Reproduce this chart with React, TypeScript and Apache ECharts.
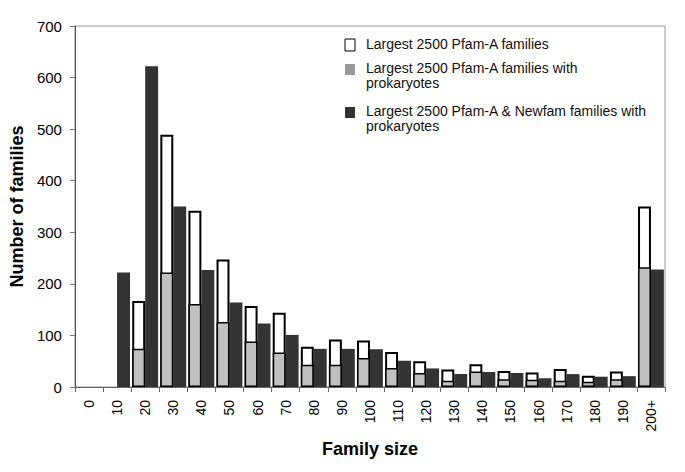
import React, { useEffect, useRef } from "react";
import * as echarts from "echarts";

const categories = ["0", "10", "20", "30", "40", "50", "60", "70", "80", "90", "100", "110", "120", "130", "140", "150", "160", "170", "180", "190", "200+"];
const pfamAll = [null, null, 167, 489, 342, 247, 157, 144, 78, 92, 90, 68, 50, 34, 44, 31, 28, 35, 22, 30, 350];
const pfamProk = [null, null, 74, 222, 161, 126, 88, 67, 43, 43, 56, 37, 27, 12, 30, 15, 14, 12, 10, 15, 232];
const pfamNewfamProk = [null, 222, 622, 350, 227, 164, 123, 101, 74, 74, 73, 51, 36, 25, 29, 27, 17, 25, 20, 21, 228];
const yTicks = [0, 100, 200, 300, 400, 500, 600, 700];

const seriesNames = [
  "Largest 2500 Pfam-A families",
  "Largest 2500 Pfam-A families with\nprokaryotes",
  "Largest 2500 Pfam-A & Newfam families with\nprokaryotes",
];

const FONT = "Arial, 'Liberation Sans', sans-serif";

export default function App() {
  const ref = useRef<HTMLDivElement>(null);
  useEffect(() => {
    if (!ref.current) return;
    const chart = echarts.init(ref.current, null, { renderer: "svg" });
    const barCommon = { barCategoryGap: "8%", barGap: "0%" };
    const legendText = (x: number, y: number, text: string) => ({
      type: "text",
      x,
      y,
      style: { text, font: `14px ${FONT}`, fill: "#111", lineHeight: 14.5, verticalAlign: "top" },
    });
    chart.setOption({
      animation: false,
      backgroundColor: "#fff",
      grid: { left: 73, right: 20, top: 26, bottom: 85, show: true, borderColor: "#999", borderWidth: 1 },
      xAxis: [
        {
          type: "category",
          data: categories,
          name: "Family size",
          nameLocation: "middle",
          nameGap: 53,
          nameTextStyle: { fontFamily: FONT, fontWeight: "bold", fontSize: 18, color: "#000" },
          axisLine: { lineStyle: { color: "#666", width: 1 } },
          axisTick: { show: true, length: 5, lineStyle: { color: "#666" } },
          axisLabel: { rotate: 90, fontFamily: FONT, fontSize: 14, color: "#000", margin: 13, interval: 0 },
        },
        { type: "category", data: categories, show: false },
      ],
      yAxis: {
        type: "value",
        min: 0,
        max: yTicks[yTicks.length - 1],
        interval: 100,
        name: "Number of families",
        nameLocation: "middle",
        nameGap: 46,
        nameTextStyle: { fontFamily: FONT, fontWeight: "bold", fontSize: 18, color: "#000" },
        axisLine: { show: true, lineStyle: { color: "#555", width: 1 } },
        axisTick: { show: true, length: 5, lineStyle: { color: "#777" } },
        splitLine: { show: false },
        axisLabel: { fontFamily: FONT, fontSize: 15, color: "#000", margin: 13 },
      },
      series: [
        {
          name: seriesNames[0],
          type: "bar",
          xAxisIndex: 0,
          data: pfamAll,
          itemStyle: { color: "#fff", borderColor: "#000", borderWidth: 2 },
          ...barCommon,
        },
        {
          name: seriesNames[2],
          type: "bar",
          xAxisIndex: 0,
          data: pfamNewfamProk,
          itemStyle: { color: "#333333" },
          ...barCommon,
        },
        {
          name: seriesNames[1],
          type: "bar",
          xAxisIndex: 1,
          data: pfamProk,
          z: 3,
          itemStyle: { color: "#c0c0c0", borderColor: "#000", borderWidth: 1.5 },
          ...barCommon,
        },
        {
          name: "_spacer",
          type: "bar",
          xAxisIndex: 1,
          data: categories.map(() => null),
          ...barCommon,
        },
      ],
      graphic: [
        { type: "rect", shape: { x: 345, y: 39, width: 10, height: 12 }, style: { fill: "#fff", stroke: "#000", lineWidth: 1 } },
        legendText(366, 37, seriesNames[0]),
        { type: "rect", shape: { x: 345, y: 64, width: 10, height: 11 }, style: { fill: "#999", stroke: null } },
        legendText(366, 61, seriesNames[1]),
        { type: "rect", shape: { x: 345, y: 107, width: 10, height: 11 }, style: { fill: "#333", stroke: null } },
        legendText(366, 104, seriesNames[2]),
      ],
    });
    return () => chart.dispose();
  }, []);
  return <div ref={ref} style={{ position: "fixed", left: 0, top: 0, width: 685, height: 472 }} />;
}
